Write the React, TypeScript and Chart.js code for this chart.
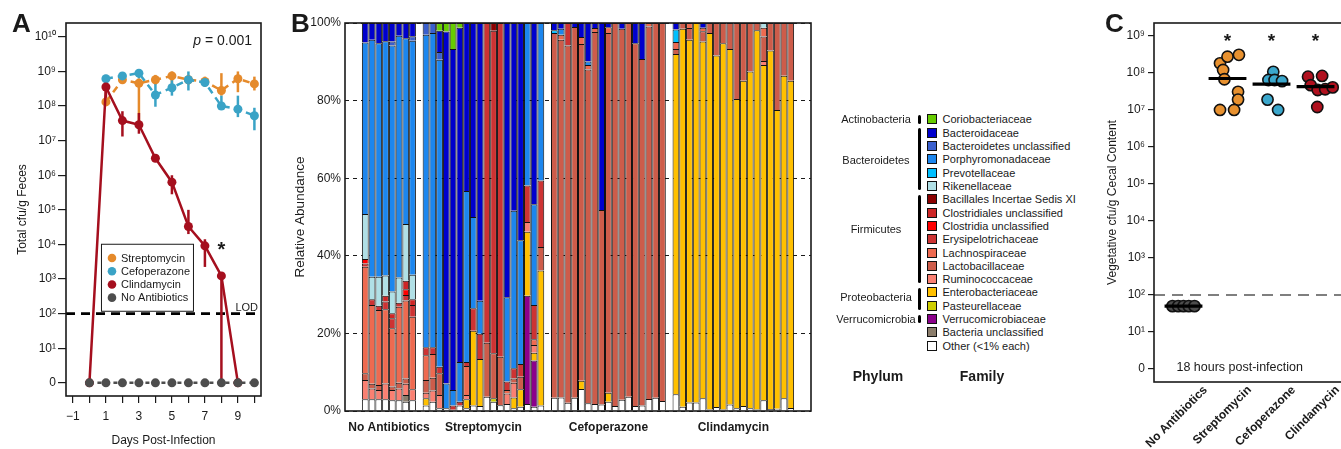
import React, { useEffect, useRef } from "react";
import { Chart, registerables } from "chart.js";

Chart.register(...registerables);

const FONT = '"Liberation Sans", Arial, Helvetica, sans-serif';
const INK = "#1a1a1a";

// ================= Panel A : log10 cfu/g feces over time =================
const COL_STREP = "#E58A2B";
const COL_CEF = "#3AA3C6";
const COL_CLINDA = "#A50F1E";
const COL_NOABX = "#4D4D4D";

const strepDays = [1, 2, 3, 4, 5, 6, 7, 8, 9, 10];
const strepLog = [8.12, 8.76, 8.66, 8.76, 8.87, 8.76, 8.71, 8.45, 8.79, 8.64];
const strepLo = [8.0, 8.65, 7.5, 8.62, 8.65, 8.62, 8.55, 8.3, 8.4, 8.45];
const strepHi = [8.25, 8.88, 8.8, 8.9, 9.0, 8.9, 8.85, 8.95, 9.0, 8.85];

const cefDays = [1, 2, 3, 4, 5, 6, 7, 8, 9, 10];
const cefLog = [8.79, 8.87, 8.95, 8.32, 8.53, 8.76, 8.68, 8.0, 7.91, 7.72];
const cefLo = [8.7, 8.78, 8.8, 7.98, 8.3, 8.45, 8.58, 7.9, 7.68, 7.3];
const cefHi = [8.88, 8.96, 9.05, 8.85, 8.78, 9.0, 8.78, 8.3, 8.3, 7.95];

const clindaDays = [0, 1, 2, 3, 4, 5, 6, 7, 8, 9];
const clindaLog = [0, 8.55, 7.58, 7.46, 6.49, 5.8, 4.52, 3.96, 3.09, 0];
const clindaLo = [0, 8.2, 7.12, 7.2, 6.4, 5.45, 4.3, 3.35, 0, 0];
const clindaHi = [0, 8.9, 7.85, 7.8, 6.6, 6.0, 5.0, 4.15, 3.2, 0];

const noAbxDays = [0, 1, 2, 3, 4, 5, 6, 7, 8, 9, 10];
const noAbxLog = [0, 0, 0, 0, 0, 0, 0, 0, 0, 0, 0];

const LOD_LOG = 2;
const A_STAR = { x: 8, y: 4.0 };
const A_PVALUE_Y = 9.89;
const A_LEGEND_ANCHOR = { x: 0.7, y: 4.02 };

const SUP: Record<string, string> = { "0": "⁰", "1": "¹", "2": "²", "3": "³", "4": "⁴", "5": "⁵", "6": "⁶", "7": "⁷", "8": "⁸", "9": "⁹" };
const powLabel = (v: number) => (v === 0 ? "0" : "10" + String(v).split("").map((c) => SUP[c] || c).join(""));

// ================= Panel B : relative abundance (%) per mouse =================
const groupNames = ["No Antibiotics", "Streptomycin", "Cefoperazone", "Clindamycin"];
const groupSizes = [8, 18, 17, 18];

// each family: 8 No Antibiotics | 18 Streptomycin | 17 Cefoperazone | 18 Clindamycin
const coriobacteriaceae = [
  0, 0, 0, 0, 0, 0, 0, 0,
  0, 0, 2.0, 2.2, 6.7, 1.2, 0, 0, 0, 0, 0, 0, 0, 0, 0, 0, 0, 0,
  0, 0, 0, 0, 0, 0, 0, 0, 0, 0, 0, 0, 0, 0, 0, 0, 0,
  0, 0, 0, 0, 0, 0, 0, 0, 0, 0, 0, 0, 0, 0, 0, 0, 0, 0,
];
const bacteroidaceae = [
  5.0, 4.3, 5.2, 4.7, 4.8, 3.3, 3.9, 3.4,
  0, 0, 5.5, 90.7, 87.9, 86.2, 43.3, 50.0, 71.6, 0, 0, 0, 70.7, 48.4, 56.0, 0, 46.7, 0,
  1.9, 1.5, 0, 1.0, 3.6, 9.9, 1.3, 48.2, 1.1, 0, 1.5, 0, 5.2, 9.3, 0, 0, 0,
  1.7, 0, 0, 0, 1.2, 0, 0, 0, 0, 0, 0, 0, 0, 0, 0, 0, 0, 0,
];
const bacteroidetesUnclassified = [
  0, 0, 0, 0, 1.0, 0, 0, 1.2,
  3.0, 2.6, 2.0, 0, 0, 0, 0, 0, 0, 0, 0, 0, 0, 0, 0, 0, 0, 0,
  0, 0, 0, 0, 0, 0, 0, 0, 0, 0, 0, 0, 0, 0, 0, 0, 0,
  0, 0, 0, 0, 0, 0, 0, 0, 0, 0, 0, 0, 0, 0, 0, 0, 0, 0,
];
const porphyromonadaceae = [
  44.2, 61.1, 60.2, 60.4, 63.4, 62.3, 47.9, 60.3,
  80.6, 81.0, 79.1, 6.4, 4.0, 10.2, 44.1, 23.5, 8.5, 0, 0, 0, 21.7, 40.6, 31.9, 41.9, 26.0, 40.6,
  0, 1.5, 0, 0, 0, 0.9, 0, 0, 0, 0, 0, 0, 0, 0, 0, 0, 0,
  0, 0, 0, 0, 0, 0, 0, 0, 0, 0, 0, 0, 0, 0, 0, 0, 0, 0,
];
const prevotellaceae = [
  0, 0, 0, 0, 0, 0, 0, 0,
  0, 0, 0, 0, 0, 0, 0, 0, 0, 0, 0, 0, 0, 0, 0, 0, 0, 0,
  0.7, 0, 0, 0, 0, 0, 0, 0, 0, 0, 0, 0, 0, 0, 0, 0, 0,
  3.2, 0, 0, 0, 0, 0, 0, 0, 0, 0, 0, 0, 0, 0, 0, 0, 0, 0,
];
const rikenellaceae = [
  11.6, 5.8, 7.5, 5.2, 5.6, 6.5, 14.6, 6.3,
  0, 0, 0, 0, 0, 0, 0, 0, 0, 0, 0, 0, 0, 0, 0, 0, 0, 0,
  0, 0, 0, 0, 0, 0, 0, 0, 0, 0, 0, 0, 0, 0, 0, 0, 0,
  0, 0, 0, 0, 0, 0, 0, 0, 0, 0, 0, 0, 0, 1.2, 0, 0, 0, 0,
];
const bacillalesIncertaeSedisXI = [
  0, 0, 0, 0, 0, 0, 0, 0,
  0, 0, 0, 0, 0, 0, 0, 0, 0, 0, 2.0, 0, 0, 0, 0, 0, 0, 0,
  0, 0, 0, 0, 0, 0, 0, 0, 0, 0, 0, 0, 0, 0, 0, 0, 0,
  0, 0, 0, 0, 0, 0, 0, 0, 0, 0, 0, 0, 0, 0, 0, 0, 0, 0,
];
const clostridialesUnclassified = [
  0, 0, 0, 1.5, 1.3, 0, 2.2, 1.5,
  0, 0, 0, 0, 0, 0, 0, 0, 0, 0, 0, 0, 0, 0, 0, 0, 0, 0,
  0, 0, 0, 0, 0, 0, 0, 0, 0, 0, 0, 0, 0, 0, 0, 0, 0,
  0, 0, 0, 0, 0, 0, 0, 0, 0, 0, 0, 0, 0, 0, 0, 0, 0, 0,
];
const clostridiaUnclassified = [
  1.2, 0, 0, 0, 0, 0, 1.5, 0,
  0, 0, 0, 0, 0, 0, 0, 0, 0, 0, 0, 0, 0, 0, 0, 0, 0, 0,
  0, 0, 0, 0, 0, 0, 0, 0, 0, 0, 0, 0, 0, 0, 0, 0, 0,
  0, 0, 0, 0, 0, 0, 0, 0, 0, 0, 0, 0, 0, 0, 0, 0, 0, 0,
];
const erysipelotrichaceae = [
  0.8, 1.5, 1.1, 2.0, 2.6, 1.0, 1.4, 3.0,
  2.0, 1.7, 1.7, 0, 1.1, 1.0, 1.0, 5.8, 6.5, 82.4, 83.1, 86.0, 2.2, 2.6, 3.3, 9.4, 8.8, 17.1,
  0, 0, 5.8, 0, 0, 0, 0, 0, 0, 0, 0, 0, 0, 0, 0, 0, 0,
  0, 0, 0, 0, 0, 0, 0, 0, 0, 0, 0, 0, 0, 0, 0, 0, 0, 0,
];
const lachnospiraceae = [
  27.5, 20.3, 19.3, 19.1, 15.0, 19.6, 20.1, 18.7,
  6.4, 6.1, 0, 0, 0, 0, 7.5, 0, 0, 0, 0, 0, 0.9, 0, 0, 0, 1.5, 0,
  0, 1.3, 0, 0, 1.8, 1.2, 1.0, 0, 1.5, 0, 0, 0, 0, 0, 0.9, 0, 0,
  1.8, 0, 1.3, 0, 0.9, 0, 0, 0, 0, 0, 0, 0, 0, 2.3, 0, 0, 0, 0,
];
const lactobacillaceae = [
  1.7, 1.2, 1.3, 0, 0.9, 1.5, 1.4, 0,
  3.3, 3.3, 5.6, 0, 0, 0, 0, 0, 0, 13.9, 11.6, 12.5, 0, 1.1, 3.2, 0, 0, 6.1,
  94.0, 92.2, 92.1, 95.6, 86.8, 86.0, 95.9, 50.1, 92.7, 98.7, 95.6, 96.3, 93.5, 89.3, 96.0, 96.6, 97.4,
  1.3, 1.5, 3.0, 0, 2.7, 2.6, 8.4, 5.2, 6.7, 19.6, 14.9, 12.5, 1.9, 6.3, 7.1, 22.4, 13.6, 14.9,
];
const ruminococcaceae = [
  5.0, 2.8, 2.4, 4.1, 2.6, 3.0, 2.9, 2.8,
  1.4, 2.9, 3.4, 0, 0, 0, 1.1, 0, 0, 0, 0, 0, 2.7, 3.8, 0, 2.5, 2.0, 0,
  0, 0, 0, 0, 0, 0, 0, 0, 0, 0, 0, 0, 0, 0, 0, 0, 0,
  0, 0, 0, 0, 0, 0, 0, 0, 0, 0, 0, 0, 0, 1.0, 0, 0, 0, 0,
];
const enterobacteriaceae = [
  0, 0, 0, 0, 0, 0, 0, 0,
  1.9, 0, 0, 0, 0, 0, 2.3, 19.3, 12.1, 0, 0, 0, 0, 2.8, 4.5, 16.5, 2.0, 34.8,
  0, 0, 0, 0, 2.1, 0, 0, 0, 2.3, 0, 0, 0, 0, 0, 0, 0, 0,
  87.7, 97.4, 93.5, 97.8, 91.9, 97.0, 90.6, 94.4, 91.6, 79.7, 83.8, 86.8, 97.7, 86.4, 92.4, 77.0, 83.1, 84.3,
];
const pasteurellaceae = [
  0, 0, 0, 0, 0, 0, 0, 0,
  0, 0, 0, 0, 0, 0, 0, 0, 0, 0, 0.9, 0, 0, 0, 0, 0, 0, 0,
  0, 0, 0, 0, 0, 0, 0, 0, 0, 0, 0, 0, 0, 0, 0, 0, 0,
  0, 0, 0, 0, 0, 0, 0, 0, 0, 0, 0, 0, 0, 0, 0, 0, 0, 0,
];
const verrucomicrobiaceae = [
  0, 0, 0, 0, 0, 0, 0, 0,
  0, 0, 0, 0, 0, 0, 0, 0, 0, 0, 0, 0, 0, 0, 0, 27.9, 11.9, 0,
  0, 0, 0, 0, 0, 0, 0, 0, 0, 0, 0, 0, 0, 0, 0, 0, 0,
  0, 0, 0, 0, 0, 0, 0, 0, 0, 0, 0, 0, 0, 0, 0, 0, 0, 0,
];
const bacteriaUnclassified = [
  0, 0, 0, 0, 0, 0, 1.7, 0,
  0, 0, 0, 0, 0, 0, 0, 0, 0, 0, 0, 0, 0, 0, 0, 0, 0, 0,
  0, 0, 0, 0, 0, 0, 0, 0, 0, 0, 0, 0, 0, 0, 0, 0, 0,
  0, 0, 0, 0, 0, 0, 0, 0, 0, 0, 0, 0, 0, 0, 0, 0, 0, 0,
];
const otherFamilies = [
  3.0, 3.0, 3.0, 3.0, 2.8, 2.8, 2.4, 2.8,
  1.4, 2.4, 0.7, 0.7, 0.3, 1.4, 0.7, 1.4, 1.3, 3.7, 2.4, 1.5, 1.8, 0.7, 1.1, 1.8, 1.1, 1.4,
  3.4, 3.5, 2.1, 3.4, 5.7, 2.0, 1.8, 1.7, 2.4, 1.3, 2.9, 3.7, 1.3, 1.4, 3.1, 3.4, 2.6,
  4.3, 1.1, 2.2, 2.2, 3.3, 0.4, 1.0, 0.4, 1.7, 0.7, 1.3, 0.7, 0.4, 2.8, 0.5, 0.6, 3.3, 0.8,
];

// legend order (top to bottom); stacking order is the reverse
const familyNames = [
  "Coriobacteriaceae", "Bacteroidaceae", "Bacteroidetes unclassified", "Porphyromonadaceae",
  "Prevotellaceae", "Rikenellaceae", "Bacillales Incertae Sedis XI", "Clostridiales unclassified",
  "Clostridia unclassified", "Erysipelotrichaceae", "Lachnospiraceae", "Lactobacillaceae",
  "Ruminococcaceae", "Enterobacteriaceae", "Pasteurellaceae", "Verrucomicrobiaceae",
  "Bacteria unclassified", "Other (<1% each)",
];
const familyColors = [
  "#66CC00", "#0000CD", "#3A5FCD", "#1C86EE", "#00BFFF", "#B0E0E6", "#8B0000", "#CD2626",
  "#FF0000", "#CD3333", "#EE6A50", "#CD5C4A", "#FA8072", "#FFC000", "#CDCD00", "#8B008B",
  "#8B7D6B", "#FFFFFF",
];
const familyValues = [
  coriobacteriaceae, bacteroidaceae, bacteroidetesUnclassified, porphyromonadaceae,
  prevotellaceae, rikenellaceae, bacillalesIncertaeSedisXI, clostridialesUnclassified,
  clostridiaUnclassified, erysipelotrichaceae, lachnospiraceae, lactobacillaceae,
  ruminococcaceae, enterobacteriaceae, pasteurellaceae, verrucomicrobiaceae,
  bacteriaUnclassified, otherFamilies,
];
const phyla = [
  { name: "Actinobacteria", first: 0, last: 0, labelY: 119.3 },
  { name: "Bacteroidetes", first: 1, last: 5, labelY: 160 },
  { name: "Firmicutes", first: 6, last: 12, labelY: 229.3 },
  { name: "Proteobacteria", first: 13, last: 14, labelY: 297.3 },
  { name: "Verrucomicrobia", first: 15, last: 15, labelY: 319 },
];

// ================= Panel C : log10 vegetative cfu/g cecal content =================
const cCategories = ["No Antibiotics", "Streptomycin", "Cefoperazone", "Clindamycin"];
const cColors = ["#4D4D4D", "#E8912F", "#3BA7CC", "#B0101E"];
const cNoAbx = [1.7, 1.7, 1.7, 1.7, 1.7];
const cNoAbxJitter = [-0.25, -0.12, 0, 0.12, 0.25];
const cStrep = [8.26, 8.44, 8.49, 8.08, 7.83, 7.49, 7.28, 7.0, 7.0];
const cStrepJitter = [-0.17, 0, 0.26, -0.1, -0.07, 0.24, 0.24, -0.17, 0.15];
const cCef = [8.03, 7.81, 7.81, 7.78, 7.28, 7.0];
const cCefJitter = [0.04, -0.07, 0.07, 0.24, -0.09, 0.15];
const cClinda = [7.9, 7.92, 7.67, 7.54, 7.56, 7.61, 7.08];
const cClindaJitter = [-0.17, 0.15, -0.11, 0.05, 0.22, 0.39, 0.04];
const cMedians = [1.7, 7.85, 7.7, 7.63];
const cStars = [false, true, true, true];
const C_STAR_Y = 9.0;
const C_CAPTION = { text: "18 hours post-infection", x: -0.16, y: 0 };

// ----------------------------------------------------------------------------
const frame = () => ({
  id: "frame",
  afterDraw(chart: any) {
    const { ctx, chartArea: a } = chart;
    ctx.save();
    ctx.strokeStyle = INK;
    ctx.lineWidth = 1.6;
    ctx.strokeRect(a.left, a.top, a.right - a.left, a.bottom - a.top);
    ctx.restore();
  },
});

const hline = (value: number, color: string, width: number, dash: number[]) => ({
  id: "hline",
  beforeDatasetsDraw(chart: any) {
    const { ctx, chartArea: a, scales } = chart;
    const py = scales.y.getPixelForValue(value);
    ctx.save();
    ctx.strokeStyle = color;
    ctx.lineWidth = width;
    ctx.setLineDash(dash);
    ctx.beginPath();
    ctx.moveTo(a.left, py);
    ctx.lineTo(a.right, py);
    ctx.stroke();
    ctx.restore();
  },
});

function configA(): any {
  const series = [
    { label: "Streptomycin", days: strepDays, val: strepLog, lo: strepLo, hi: strepHi, color: COL_STREP, dash: [7, 5], order: 4 },
    { label: "Cefoperazone", days: cefDays, val: cefLog, lo: cefLo, hi: cefHi, color: COL_CEF, dash: [7, 5], order: 3 },
    { label: "Clindamycin", days: clindaDays, val: clindaLog, lo: clindaLo, hi: clindaHi, color: COL_CLINDA, dash: [], order: 2 },
    { label: "No Antibiotics", days: noAbxDays, val: noAbxLog, lo: null, hi: null, color: COL_NOABX, dash: [4, 4], order: 1 },
  ];
  const errorBars = {
    id: "errorBars",
    beforeDatasetsDraw(chart: any) {
      const { ctx, scales: { x, y } } = chart;
      ctx.save();
      ctx.lineWidth = 2.5;
      [...series].sort((p, q) => q.order - p.order).forEach((s) => {
        if (!s.lo || !s.hi) return;
        ctx.strokeStyle = s.color;
        s.days.forEach((d, i) => {
          const px = x.getPixelForValue(d);
          ctx.beginPath();
          ctx.moveTo(px, y.getPixelForValue(s.lo![i]));
          ctx.lineTo(px, y.getPixelForValue(s.hi![i]));
          ctx.stroke();
        });
      });
      ctx.restore();
    },
  };
  const annot = {
    id: "annotA",
    afterDraw(chart: any) {
      const { ctx, chartArea: a, scales: { x, y } } = chart;
      ctx.save();
      ctx.fillStyle = INK;
      ctx.textBaseline = "middle";
      ctx.textAlign = "right";
      ctx.font = `14px ${FONT}`;
      const py = y.getPixelForValue(A_PVALUE_Y);
      const rest = " = 0.001";
      const rx = a.right - 9;
      ctx.fillText(rest, rx, py);
      const w = ctx.measureText(rest).width;
      ctx.font = `italic 14px ${FONT}`;
      ctx.fillText("p", rx - w, py);
      ctx.font = `11px ${FONT}`;
      ctx.textAlign = "right";
      ctx.textBaseline = "alphabetic";
      ctx.fillText("LOD", a.right - 3, y.getPixelForValue(LOD_LOG) - 3);
      ctx.font = `bold 20px ${FONT}`;
      ctx.textAlign = "center";
      ctx.fillText("*", x.getPixelForValue(A_STAR.x), y.getPixelForValue(A_STAR.y) + 0.57 * 20);
      const lx = x.getPixelForValue(A_LEGEND_ANCHOR.x);
      const ly = y.getPixelForValue(A_LEGEND_ANCHOR.y);
      ctx.fillStyle = "#fff";
      ctx.fillRect(lx, ly, 92, 67);
      ctx.strokeStyle = INK;
      ctx.lineWidth = 1;
      ctx.strokeRect(lx + 0.5, ly + 0.5, 92, 67);
      ctx.font = `11px ${FONT}`;
      ctx.textAlign = "left";
      ctx.textBaseline = "middle";
      series.forEach((s, i) => {
        const cy = ly + 14.3 + 13.2 * i;
        ctx.fillStyle = s.color;
        ctx.beginPath();
        ctx.arc(lx + 11, cy, 4.3, 0, Math.PI * 2);
        ctx.fill();
        ctx.fillStyle = INK;
        ctx.fillText(s.label, lx + 20, cy + 0.5);
      });
      ctx.restore();
    },
  };
  return {
    type: "line",
    data: {
      datasets: series.map((s) => ({
        label: s.label,
        data: s.days.map((d, i) => ({ x: d, y: s.val[i] })),
        borderColor: s.color,
        backgroundColor: s.color,
        borderWidth: 2.5,
        borderDash: s.dash,
        pointRadius: 4.5,
        pointBackgroundColor: s.color,
        pointBorderWidth: 0,
        tension: 0,
        order: s.order,
      })),
    },
    options: {
      animation: false,
      responsive: false,
      devicePixelRatio: 1,
      layout: { padding: { left: 0, right: 14, top: 23, bottom: 0 } },
      plugins: { legend: { display: false }, tooltip: { enabled: false } },
      scales: {
        x: {
          type: "linear",
          min: -1.42,
          max: 10.4,
          border: { display: false },
          grid: { drawOnChartArea: false, drawTicks: true, tickLength: 7, color: INK, lineWidth: 1.2 },
          ticks: {
            stepSize: 1,
            includeBounds: false,
            autoSkip: false,
            maxRotation: 0,
            padding: 6,
            color: INK,
            font: { family: FONT, size: 12 },
            callback: (v: number) => (Math.abs(v % 2) === 1 ? (v < 0 ? "−" + Math.abs(v) : String(v)) : ""),
          },
          title: { display: true, text: "Days Post-Infection", color: INK, font: { family: FONT, size: 12 }, padding: { top: 0, bottom: 1 } },
          afterFit: (s: any) => { s.height = 53; },
        },
        y: {
          type: "linear",
          min: -0.38,
          max: 10.4,
          border: { display: false },
          grid: { drawOnChartArea: false, drawTicks: true, tickLength: 8, color: INK, lineWidth: 1.2 },
          ticks: { stepSize: 1, includeBounds: false, padding: 2, color: INK, font: { family: FONT, size: 12 }, callback: (v: number) => powLabel(v) },
          title: { display: true, text: "Total cfu/g Feces", color: INK, font: { family: FONT, size: 12 }, padding: { top: 15, bottom: 0 } },
          afterFit: (s: any) => { s.width = 66; },
        },
      },
    },
    plugins: [hline(LOD_LOG, "#000", 2.6, [9, 6]), errorBars, annot, frame()],
  };
}

function configB(): any {
  const labels: string[] = ["", "", ""];
  const slotOfBar: number[] = [];
  const groupRanges: { first: number; last: number }[] = [];
  groupSizes.forEach((n, g) => {
    const first = labels.length;
    for (let k = 0; k < n; k++) {
      slotOfBar.push(labels.length);
      labels.push(groupNames[g]);
    }
    groupRanges.push({ first, last: labels.length - 1 });
    if (g < groupSizes.length - 1) labels.push("");
  });
  labels.push("", "", "");
  const nBars = slotOfBar.length;
  const totals: number[] = [];
  for (let b = 0; b < nBars; b++) totals.push(familyValues.reduce((acc, arr) => acc + (arr[b] || 0), 0));

  const order = familyNames.map((_, i) => i).reverse();
  const datasets = order.map((fi) => {
    const data: (number | null)[] = labels.map(() => null);
    slotOfBar.forEach((slot, b) => {
      const v = familyValues[fi][b];
      data[slot] = v ? (v / totals[b]) * 100 : null;
    });
    return {
      label: familyNames[fi],
      data,
      backgroundColor: familyColors[fi],
      borderColor: "#111",
      borderWidth: 1,
      barPercentage: 1,
      categoryPercentage: 1,
      inflateAmount: 0,
    };
  });
  const groupLabels = {
    id: "groupLabels",
    afterDraw(chart: any) {
      const { ctx, chartArea: a, scales: { x } } = chart;
      ctx.save();
      ctx.fillStyle = INK;
      ctx.font = `bold 12px ${FONT}`;
      ctx.textAlign = "center";
      ctx.textBaseline = "middle";
      groupRanges.forEach((r, g) => {
        const cx = (x.getPixelForValue(r.first) + x.getPixelForValue(r.last)) / 2;
        ctx.fillText(groupNames[g], cx, a.bottom + 17);
      });
      ctx.restore();
    },
  };
  return {
    type: "bar",
    data: { labels, datasets },
    options: {
      animation: false,
      responsive: false,
      devicePixelRatio: 1,
      layout: { padding: { left: 0, right: 9, top: 23, bottom: 0 } },
      plugins: { legend: { display: false }, tooltip: { enabled: false } },
      scales: {
        x: {
          type: "category",
          stacked: true,
          offset: false,
          grid: { display: false, offset: false },
          ticks: { display: false },
          border: { display: false },
          afterFit: (s: any) => { s.height = 38; },
        },
        y: {
          stacked: true,
          min: 0,
          max: 100,
          grid: { color: INK, lineWidth: 1, drawTicks: false },
          border: { display: false, dash: [4, 4] },
          ticks: { stepSize: 20, padding: 4, color: INK, font: { family: FONT, size: 12 }, callback: (v: number) => v + "%" },
          title: { display: true, text: "Relative Abundance", color: INK, font: { family: FONT, size: 13.5 }, padding: { top: 12.6, bottom: 0 } },
          afterFit: (s: any) => { s.width = 65; },
        },
      },
    },
    plugins: [groupLabels, frame()],
  };
}

function configC(): any {
  const groups = [
    { vals: cNoAbx, jit: cNoAbxJitter },
    { vals: cStrep, jit: cStrepJitter },
    { vals: cCef, jit: cCefJitter },
    { vals: cClinda, jit: cClindaJitter },
  ];
  const pointSets = groups.map((g, gi) => ({
    type: "scatter",
    label: cCategories[gi],
    data: g.vals.map((v, i) => ({ x: gi + g.jit[i], y: v })),
    pointRadius: 5.6,
    pointBackgroundColor: cColors[gi],
    pointBorderColor: "#111",
    pointBorderWidth: 1.6,
    order: 2,
  }));
  const medianSets = cMedians.map((m, gi) => ({
    type: "line",
    label: cCategories[gi] + " median",
    data: [{ x: gi - 0.43, y: m }, { x: gi + 0.43, y: m }],
    borderColor: "#000",
    borderWidth: 3.2,
    pointRadius: 0,
    order: 1,
  }));
  const annot = {
    id: "annotC",
    afterDraw(chart: any) {
      const { ctx, scales: { x, y } } = chart;
      ctx.save();
      ctx.fillStyle = INK;
      ctx.textAlign = "center";
      ctx.font = `bold 19px ${FONT}`;
      cStars.forEach((s, i) => {
        if (s) ctx.fillText("*", x.getPixelForValue(i), y.getPixelForValue(C_STAR_Y) + 0.57 * 19);
      });
      ctx.font = `12.5px ${FONT}`;
      ctx.textAlign = "left";
      ctx.textBaseline = "middle";
      ctx.fillText(C_CAPTION.text, x.getPixelForValue(C_CAPTION.x), y.getPixelForValue(C_CAPTION.y) - 1);
      ctx.restore();
    },
  };
  return {
    type: "scatter",
    data: { datasets: [...pointSets, ...medianSets] },
    options: {
      animation: false,
      responsive: false,
      devicePixelRatio: 1,
      layout: { padding: { left: 0, right: 4, top: 23, bottom: 0 } },
      plugins: { legend: { display: false }, tooltip: { enabled: false } },
      scales: {
        x: {
          type: "linear",
          min: -0.67,
          max: 3.62,
          border: { display: false },
          grid: { display: false, drawTicks: false },
          ticks: {
            stepSize: 1,
            includeBounds: false,
            autoSkip: false,
            minRotation: 45,
            maxRotation: 45,
            labelOffset: 22,
            padding: 1,
            color: INK,
            font: { family: FONT, size: 12, weight: "bold" },
            callback: (v: number) => cCategories[v] ?? "",
          },
          afterFit: (s: any) => { s.height = 67; },
        },
        y: {
          type: "linear",
          min: -0.35,
          max: 9.35,
          border: { display: false },
          grid: { drawOnChartArea: false, drawTicks: true, tickLength: 6, color: INK, lineWidth: 1.2 },
          ticks: { stepSize: 1, includeBounds: false, padding: 3, color: INK, font: { family: FONT, size: 12 }, callback: (v: number) => powLabel(v) },
          title: { display: true, text: "Vegetative cfu/g Cecal Content", color: INK, font: { family: FONT, size: 12 }, padding: { top: 15, bottom: 0 } },
          afterFit: (s: any) => { s.width = 64; },
        },
      },
    },
    plugins: [hline(LOD_LOG, "#555", 1.6, [11, 7]), annot, frame()],
  };
}

function ChartCanvas({ make, left, top, width, height }: { make: () => any; left: number; top: number; width: number; height: number }) {
  const ref = useRef<HTMLCanvasElement>(null);
  useEffect(() => {
    const chart = new Chart(ref.current as HTMLCanvasElement, make());
    return () => chart.destroy();
  }, []);
  return <canvas ref={ref} width={width} height={height} style={{ position: "absolute", left, top, width, height }} />;
}

const LEG_TOP = 119.3;
const LEG_STEP = 13.32;

export default function App() {
  const abs = (s: React.CSSProperties): React.CSSProperties => ({ position: "absolute", whiteSpace: "nowrap", ...s });
  return (
    <div style={{ position: "absolute", left: 0, top: 0, width: 1341, height: 449, overflow: "hidden", background: "#fff", fontFamily: FONT, color: INK }}>
      <ChartCanvas make={configA} left={0} top={0} width={275} height={449} />
      <ChartCanvas make={configB} left={280} top={0} width={540} height={449} />
      <ChartCanvas make={configC} left={1090} top={0} width={260} height={449} />

      <div style={abs({ left: 12, top: 9.6, fontSize: 26, lineHeight: "26px", fontWeight: "bold" })}>A</div>
      <div style={abs({ left: 291, top: 9.6, fontSize: 26, lineHeight: "26px", fontWeight: "bold" })}>B</div>
      <div style={abs({ left: 1105, top: 9.6, fontSize: 26, lineHeight: "26px", fontWeight: "bold" })}>C</div>

      {familyNames.map((name, i) => {
        const cy = LEG_TOP + i * LEG_STEP;
        return (
          <React.Fragment key={name}>
            <div style={abs({ left: 926.5, top: cy - 5, width: 10, height: 10, background: familyColors[i], border: "1px solid #111", boxSizing: "border-box" })} />
            <div style={abs({ left: 942.5, top: cy - 7, fontSize: 11, lineHeight: "14px" })}>{name}</div>
          </React.Fragment>
        );
      })}
      {phyla.map((p) => {
        const y0 = LEG_TOP + p.first * LEG_STEP - 4.3;
        const y1 = LEG_TOP + p.last * LEG_STEP + 4.3;
        return (
          <React.Fragment key={p.name}>
            <div style={abs({ left: 918.3, top: y0, width: 3, height: y1 - y0, background: "#000", borderRadius: 1.5 })} />
            <div style={abs({ left: 816, width: 120, top: p.labelY - 7, fontSize: 11, lineHeight: "14px", textAlign: "center" })}>{p.name}</div>
          </React.Fragment>
        );
      })}
      <div style={abs({ left: 828, width: 100, top: 368, fontSize: 14, lineHeight: "16px", fontWeight: "bold", textAlign: "center" })}>Phylum</div>
      <div style={abs({ left: 932, width: 100, top: 368, fontSize: 14, lineHeight: "16px", fontWeight: "bold", textAlign: "center" })}>Family</div>
    </div>
  );
}
